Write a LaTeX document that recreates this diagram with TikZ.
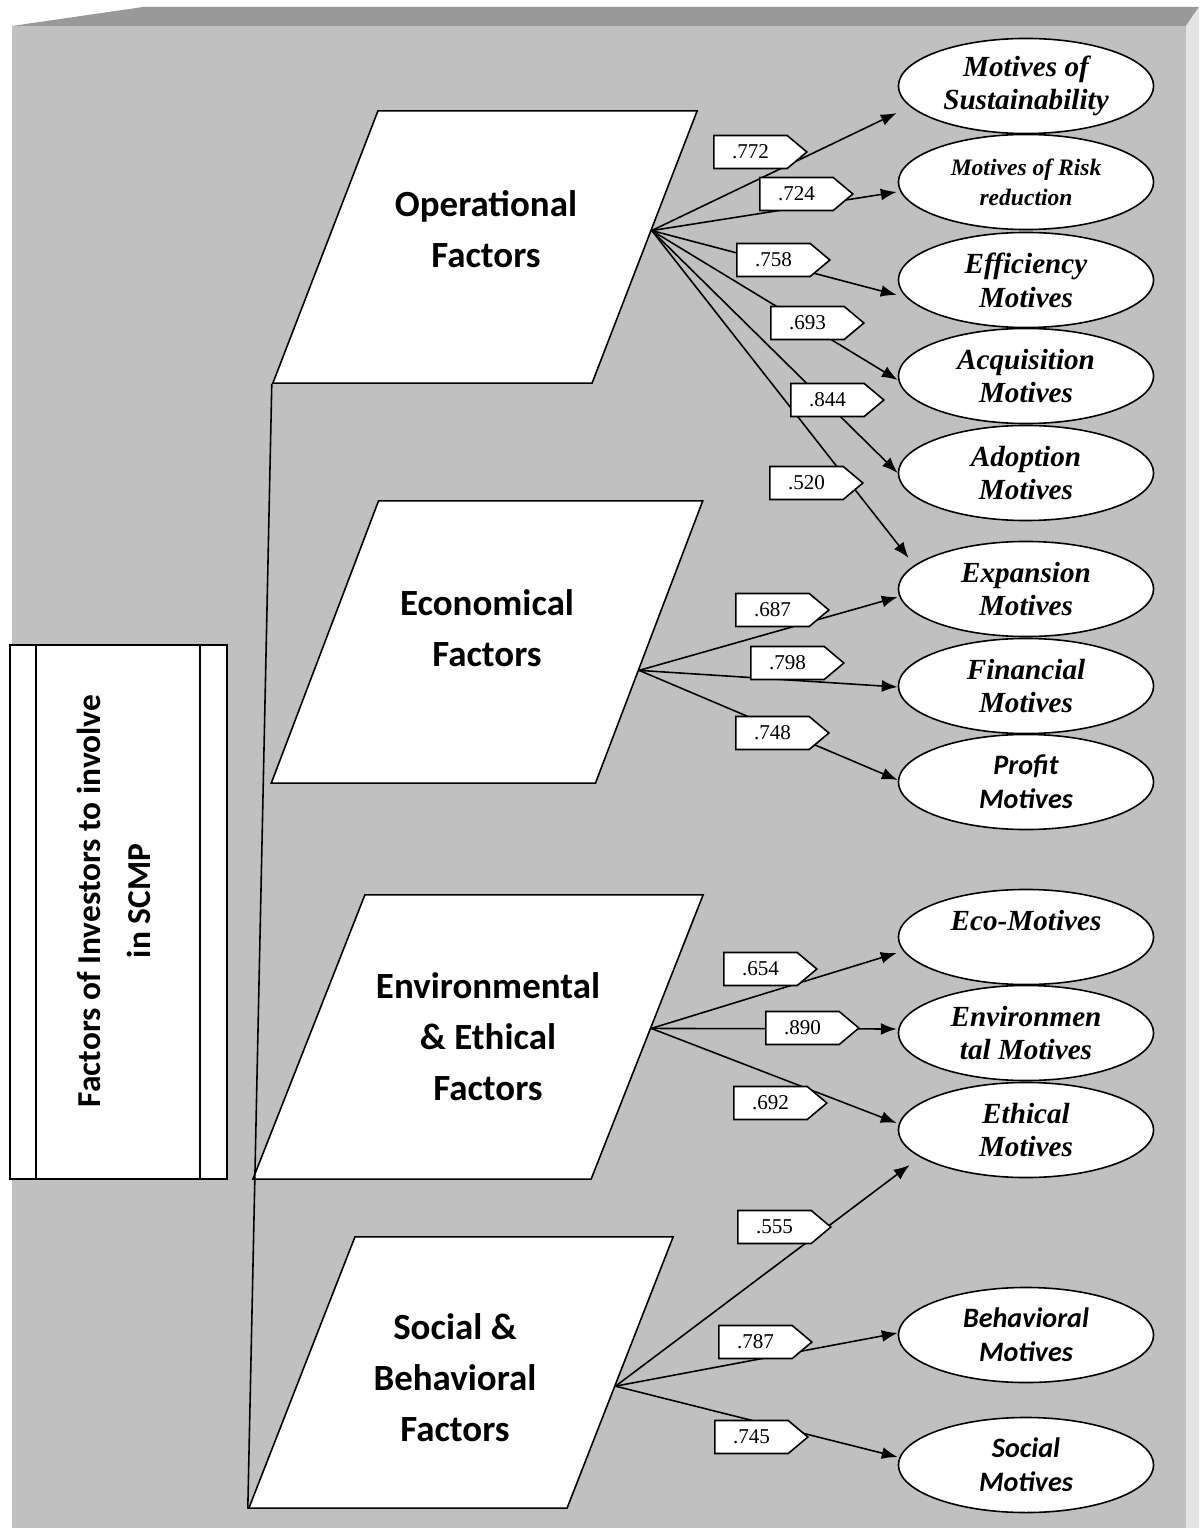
\documentclass[tikz,border=0pt]{standalone}
\usepackage{fontspec}
\setmainfont{Liberation Serif}
\newfontfamily\calfont{Carlito}
\usetikzlibrary{shapes.geometric,shapes.symbols,arrows.meta,calc}
\definecolor{frontgray}{HTML}{C0C0C0}
\definecolor{topgray}{HTML}{999999}
\definecolor{sidegray}{HTML}{E4E4E4}

\begin{document}
\begin{tikzpicture}[x=0.01cm, y=-0.01cm, line width=0.45pt,
    factor/.style={rectangle, draw, fill=white, inner sep=0pt},
    factortxt/.style={align=center, font=\calfont\bfseries\fontsize{10.5}{14.5}\selectfont},
    motive/.style={ellipse, draw, fill=white, minimum width=2.55cm, minimum height=0.95cm,
      inner sep=0pt, align=center, font=\bfseries\itshape\fontsize{8.3}{9.6}\selectfont},
    smotive/.style={motive, font=\calfont\bfseries\itshape\fontsize{8}{9.6}\selectfont},
    weight/.style={signal, signal to=east, signal pointer angle=80, draw, fill=white,
      minimum width=0.93cm, minimum height=0.33cm, inner sep=0pt, anchor=west,
      font=\fontsize{6}{7}\selectfont},
    link/.style={-{Latex[length=4.5pt,width=3.4pt]}}]
    \useasboundingbox (0,0) rectangle (1199,1528);

    % box in perspective
    \fill[frontgray] (12,26) rectangle (1186,1528);
    \fill[topgray] (12,26) -- (143,7) -- (1199,7) -- (1186,26) -- cycle;
    \fill[sidegray] (1186,26) -- (1199,7) -- (1199,1528) -- (1186,1528) -- cycle;

    \node[factor, xslant=0.386, minimum width=3.19cm, minimum height=2.72cm] (op) at (485,247) {};
    \node[factor, xslant=0.380, minimum width=3.24cm, minimum height=2.82cm] (ec) at (487,642) {};
    \node[factor, xslant=0.394, minimum width=3.38cm, minimum height=2.84cm] (en) at (478,1037) {};
    \node[factor, xslant=0.391, minimum width=3.18cm, minimum height=2.71cm] (so) at (461,1372.5) {};

    \node[factortxt] (opT) at (486,229) {Operational\\Factors};
    \node[factortxt] (ecT) at (487,628) {Economical\\Factors};
    \node[factortxt] (enT) at (488,1037) {Environmental\\\& Ethical\\Factors};
    \node[factortxt] (soT) at (455,1378) {Social \&\\Behavioral\\Factors};

    \draw (op.south west) -- (so.south west);

    \node[draw, fill=white, minimum width=2.17cm, minimum height=5.34cm, inner sep=0pt] (box) at (118.5,912) {};
    \draw ($(box.north west)+(27,0)$) -- ($(box.south west)+(27,0)$);
    \draw ($(box.north east)+(-28,0)$) -- ($(box.south east)+(-28,0)$);
    \node[rotate=90, align=center, font=\calfont\bfseries\fontsize{9.5}{14.2}\selectfont] (boxT) at (113.5,901)
      {Factors of Investors to involve\\in SCMP};

    \node[motive] (sus) at (1026,86) {Motives of\\Sustainability};
    \node[motive, font=\bfseries\itshape\fontsize{6.7}{8.5}\selectfont] (risk) at (1026,182) {Motives of Risk\\reduction};
    \node[motive] (eff) at (1026,280) {Efficiency\\Motives};
    \node[motive] (acq) at (1026,376) {Acquisition\\Motives};
    \node[motive] (adop) at (1026,473) {Adoption\\Motives};
    \node[motive] (exp) at (1026,589) {Expansion\\Motives};
    \node[motive] (fin) at (1026,686) {Financial\\Motives};
    \node[smotive] (prof) at (1026,782) {Profit\\Motives};
    \node[motive] (eco) at (1026,937) {Eco-Motives\\\mbox{}};
    \node[motive] (envm) at (1026,1033) {Environmen\\tal Motives};
    \node[motive] (eth) at (1026,1130) {Ethical\\Motives};
    \node[smotive] (beh) at (1026,1335) {Behavioral\\Motives};
    \node[smotive] (soc) at (1026,1465) {Social\\Motives};

    \coordinate (opS) at ($(op.south east)!0.56!(op.north east)$);
    \coordinate (ecS) at ($(ec.south east)!0.40!(ec.north east)$);
    \coordinate (enS) at ($(en.south east)!0.53!(en.north east)$);
    \coordinate (soS) at ($(so.south east)!0.45!(so.north east)$);

    \foreach \m/\dx/\dy in {sus/-1/27, risk/-1/10, eff/-1/15, acq/0/4, adop/0/0, exp/11/-31}
      \draw[link] (opS) -- ($(\m.west)+(\dx,\dy)$);
    \foreach \m/\dx/\dy in {exp/0/8, fin/0/1, prof/0/-2}
      \draw[link] (ecS) -- ($(\m.west)+(\dx,\dy)$);
    \foreach \m/\dx/\dy in {eco/-1/16, envm/-1/-4, eth/-1/-7}
      \draw[link] (enS) -- ($(\m.west)+(\dx,\dy)$);
    \foreach \m/\dx/\dy in {eth/12/35, beh/0/-2, soc/0/-8}
      \draw[link] (soS) -- ($(\m.west)+(\dx,\dy)$);

    \foreach \v/\xx/\yy [count=\i] in {.772/713/152, .724/759/194, .758/736/260, .693/770/323,
        .844/790/400, .520/769/483, .687/735/610, .798/750/663, .748/735/733, .654/723/969,
        .890/765/1028, .692/733/1103, .555/737/1227, .787/718/1342, .745/714/1437}
      \node[weight] (w\i) at (\xx,\yy) {\v};
\end{tikzpicture}
\end{document}
